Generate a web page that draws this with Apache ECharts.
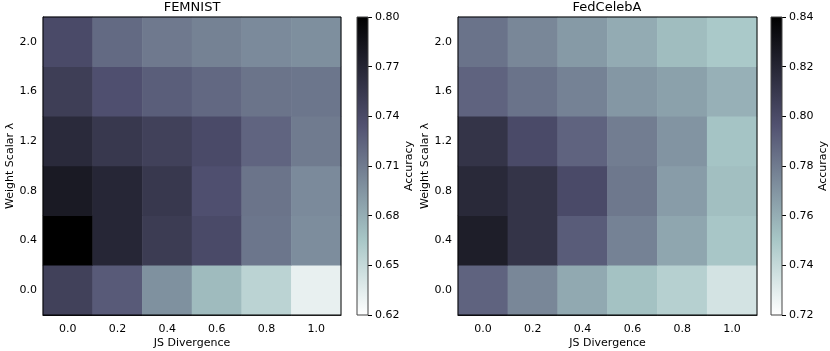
<!DOCTYPE html>
<html>
<head>
<meta charset="utf-8">
<script src="https://cdn.jsdelivr.net/npm/echarts@6/dist/echarts.min.js"></script>
<style>
	html, body { margin: 0; padding: 0; background: #fff; }
	#chart { width: 830px; height: 351px; }
</style>
</head>
<body>
<div id="chart"></div>
<script>
// 横轴 JS Divergence，纵轴 λ（自下而上）
const xLabels = ['0.0', '0.2', '0.4', '0.6', '0.8', '1.0'];
const yLabels = ['0.0', '0.4', '0.8', '1.2', '1.6', '2.0'];

// 每行对应一个 λ，从 0.0 到 2.0
const femnist = [
	[0.748, 0.729, 0.697, 0.672, 0.655, 0.632],
	[0.800, 0.769, 0.752, 0.740, 0.713, 0.699],
	[0.779, 0.769, 0.755, 0.736, 0.714, 0.701],
	[0.766, 0.755, 0.748, 0.740, 0.723, 0.710],
	[0.750, 0.736, 0.727, 0.721, 0.714, 0.713],
	[0.740, 0.720, 0.711, 0.706, 0.701, 0.698]
];
const celeba = [
	[0.789, 0.775, 0.762, 0.752, 0.745, 0.735],
	[0.824, 0.812, 0.792, 0.777, 0.763, 0.750],
	[0.818, 0.812, 0.800, 0.781, 0.767, 0.753],
	[0.812, 0.800, 0.789, 0.779, 0.770, 0.751],
	[0.789, 0.783, 0.777, 0.769, 0.765, 0.759],
	[0.783, 0.775, 0.768, 0.761, 0.754, 0.749]
];

// 色条范围与刻度
const femRange = [0.62, 0.80], femStep = 0.03;
const celRange = [0.72, 0.84], celStep = 0.02;

const font = 'DejaVu Sans';

// matplotlib bone_r
const boneKnots = [
	[0, [255, 255, 255]],
	[0.253968, [166.5, 198.3, 198.3]],
	[0.634921, [81.5, 81.5, 113.3]],
	[1, [0, 0, 0]]
];
function boneR(v) {
	for (let i = 1; i < boneKnots.length; i++) {
		if (v <= boneKnots[i][0]) {
			let a = boneKnots[i - 1], b = boneKnots[i];
			let f = (v - a[0]) / (b[0] - a[0]);
			let c = a[1].map((x, k) => Math.round(x + (b[1][k] - x) * f));
			return 'rgb(' + c.join(',') + ')';
		}
	}
	return 'rgb(0,0,0)';
}
let boneColors = [];
for (let i = 0; i <= 50; i++) boneColors.push(boneR(i / 50));

function cells(rows) {
	let out = [];
	rows.forEach((row, yi) => row.forEach((v, xi) => out.push([xi, yi, v])));
	return out;
}

function cbGradient() {
	// 从上（深）到下（浅）
	return new echarts.graphic.LinearGradient(0, 0, 0, 1, boneKnots.slice().reverse().map(k => ({
		offset: 1 - k[0], color: 'rgb(' + k[1].map(Math.round).join(',') + ')'
	})));
}

let txt = { color: '#000', fontSize: 11, fontFamily: font };

function heatAxes(gi) {
	return {
		x: {
			gridIndex: gi, type: 'category', data: xLabels, position: 'bottom',
			axisLine: { show: true, lineStyle: { color: '#000', width: 1 } },
			axisTick: { alignWithLabel: true, length: 4, lineStyle: { color: '#000' } },
			axisLabel: Object.assign({ margin: 9 }, txt),
			splitLine: { show: false },
			name: 'JS Divergence', nameLocation: 'middle', nameGap: 22.5, nameMoveOverlap: false,
			nameTextStyle: txt
		},
		y: {
			gridIndex: gi, type: 'category', data: yLabels,
			axisLine: { show: true, lineStyle: { color: '#000', width: 1 } },
			axisTick: { alignWithLabel: true, length: 4, lineStyle: { color: '#000' } },
			axisLabel: Object.assign({ margin: 6 }, txt),
			splitLine: { show: false },
			name: 'Weight Scalar λ', nameLocation: 'middle', nameGap: 27, nameMoveOverlap: false,
			nameTextStyle: txt
		}
	};
}

function cbAxes(gi, range, step) {
	return {
		x: { gridIndex: gi, type: 'category', data: ['cb'], show: false },
		y: {
			gridIndex: gi, type: 'value', position: 'right',
			min: range[0], max: range[1], interval: step,
			axisLine: { show: false },
			axisTick: { show: true, length: 4, lineStyle: { color: '#000' } },
			axisLabel: Object.assign({ margin: 7, formatter: v => v.toFixed(2) }, txt),
			splitLine: { show: false },
			name: 'Accuracy', nameLocation: 'middle', nameGap: 36, nameRotate: 90, nameMoveOverlap: false,
			nameTextStyle: txt
		}
	};
}

let a0 = heatAxes(0), a1 = cbAxes(1, femRange, femStep),
	a2 = heatAxes(2), a3 = cbAxes(3, celRange, celStep);

let gridBase = {
	top: 17, height: 298, show: true, z: 3, outerBoundsMode: 'none', containLabel: false,
	borderColor: '#000', borderWidth: 1, backgroundColor: 'transparent'
};
let titleText = { fontSize: 13, fontWeight: 'normal', color: '#000', fontFamily: font };

let option = {
	animation: false,
	backgroundColor: '#fff',
	title: [
		{ text: 'FEMNIST', left: 192, top: 1, textAlign: 'center', padding: 0, textStyle: titleText },
		{ text: 'FedCelebA', left: 607, top: 1, textAlign: 'center', padding: 0, textStyle: titleText }
	],
	grid: [
		Object.assign({}, gridBase, { left: 43, width: 298 }),
		Object.assign({}, gridBase, { left: 357, width: 11, borderColor: '#444' }),
		Object.assign({}, gridBase, { left: 458, width: 299 }),
		Object.assign({}, gridBase, { left: 771, width: 11, borderColor: '#444' })
	],
	xAxis: [a0.x, a1.x, a2.x, a3.x],
	yAxis: [a0.y, a1.y, a2.y, a3.y],
	visualMap: [
		{ show: false, seriesIndex: 0, dimension: 2, min: femRange[0], max: femRange[1], inRange: { color: boneColors } },
		{ show: false, seriesIndex: 3, dimension: 2, min: celRange[0], max: celRange[1], inRange: { color: boneColors } }
	],
	series: [
		{ type: 'heatmap', xAxisIndex: 0, yAxisIndex: 0, data: cells(femnist), silent: true },
		{ type: 'bar', xAxisIndex: 1, yAxisIndex: 1, stack: 'cb1', data: [femRange[0]], barWidth: '100%',
			itemStyle: { color: 'transparent' }, silent: true },
		{ type: 'bar', xAxisIndex: 1, yAxisIndex: 1, stack: 'cb1', data: [femRange[1] - femRange[0]], barWidth: '100%',
			itemStyle: { color: cbGradient() }, silent: true },
		{ type: 'heatmap', xAxisIndex: 2, yAxisIndex: 2, data: cells(celeba), silent: true },
		{ type: 'bar', xAxisIndex: 3, yAxisIndex: 3, stack: 'cb2', data: [celRange[0]], barWidth: '100%',
			itemStyle: { color: 'transparent' }, silent: true },
		{ type: 'bar', xAxisIndex: 3, yAxisIndex: 3, stack: 'cb2', data: [celRange[1] - celRange[0]], barWidth: '100%',
			itemStyle: { color: cbGradient() }, silent: true }
	]
};

let chart = echarts.init(document.getElementById('chart'), null, { renderer: 'canvas' });
chart.setOption(option);
</script>
</body>
</html>
